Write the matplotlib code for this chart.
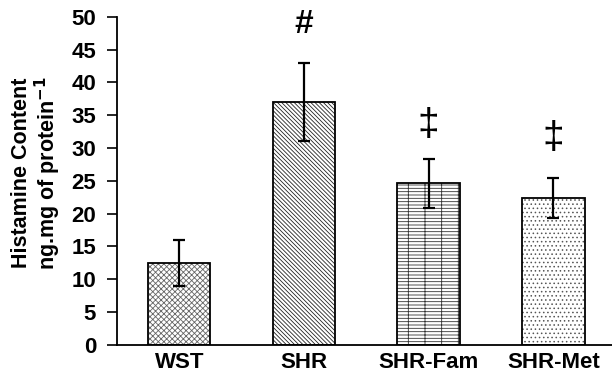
import matplotlib
matplotlib.use("Agg")
import matplotlib.pyplot as plt
import numpy as np

groups = ["WST", "SHR", "SHR-Fam", "SHR-Met"]
means = [12.5, 37.0, 24.6, 22.4]
errors = [3.5, 6.0, 3.8, 3.0]
marks = ["", "#", "\u2021", "\u2021"]
mark_y = [0, 48.9, 33.5, 31.6]
hatches = ["xxxxxx", "\\\\\\\\\\\\\\\\", "-|----", "...."]
hatch_colors = ["#666666", "#222222", "#333333", "#555555"]

plt.rcParams["font.family"] = ["Liberation Sans", "DejaVu Sans"]
plt.rcParams["hatch.linewidth"] = 0.6

fig = plt.figure(figsize=(6.12, 3.74), dpi=100)
ax = fig.add_axes([0.191, 0.078, 0.809, 0.877])

x = np.arange(len(groups))
for i in range(len(groups)):
    # outline drawn separately so hatch colour can differ from edge
    ax.bar(x[i], means[i], width=0.5, color="white", edgecolor=hatch_colors[i],
           linewidth=0, hatch=hatches[i], zorder=2)
    ax.bar(x[i], means[i], width=0.5, color="none", edgecolor="black",
           linewidth=1.3, zorder=2)
ax.errorbar(x, means, yerr=errors, fmt="none", ecolor="black",
            elinewidth=1.6, capsize=4, capthick=1.6, zorder=3)

for i, m in enumerate(marks):
    if m:
        ax.text(x[i], mark_y[i], m, ha="center", va="center",
                fontsize=24 if m == "#" else 28,
                fontweight="bold" if m == "#" else "normal")

ax.set_xlim(-0.5, 3.47)
ax.set_ylim(0, 50)
ax.set_yticks(np.arange(0, 51, 5))
ax.set_xticks(x)
ax.set_xticklabels(groups, fontsize=16, fontweight="bold")
for lab in ax.get_yticklabels():
    lab.set_fontsize(16)
    lab.set_fontweight("bold")
ax.tick_params(axis="x", length=0, pad=5)
ax.tick_params(axis="y", direction="out", length=7, width=1.2, pad=8)

ax.spines["top"].set_visible(False)
ax.spines["right"].set_visible(False)
ax.spines["left"].set_linewidth(1.3)
ax.spines["bottom"].set_linewidth(1.3)

ax.set_ylabel("Histamine Content\nng.mg of protein$^{\\mathbf{-1}}$",
              fontsize=15.5, fontweight="bold", linespacing=1.05)
ax.yaxis.set_label_coords(-0.108, 0.523)

fig.savefig("out.png", dpi=100)
